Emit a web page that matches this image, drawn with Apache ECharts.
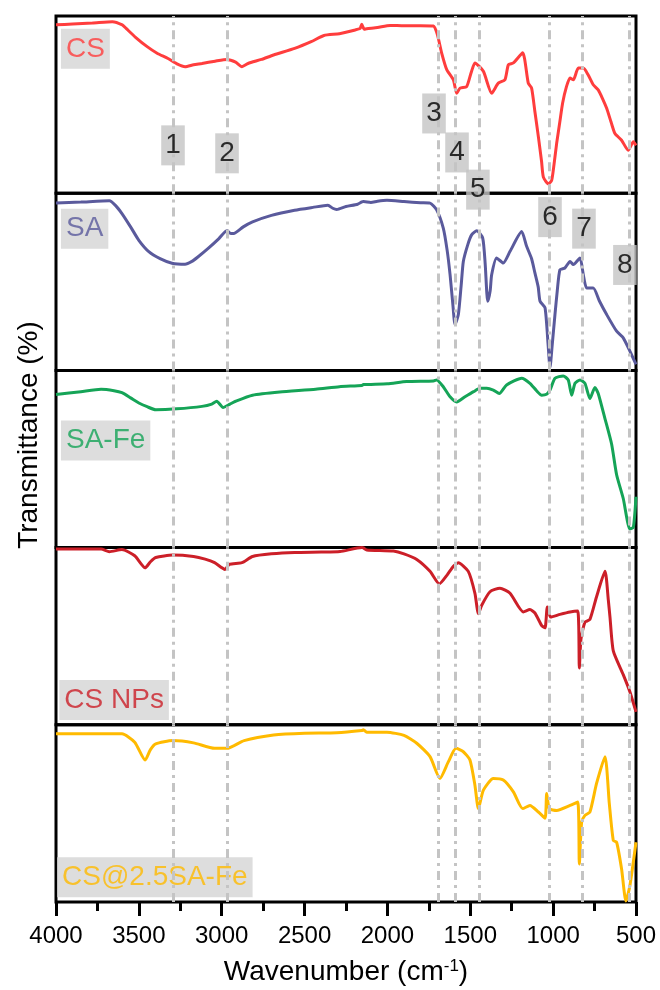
<!DOCTYPE html>
<html>
<head>
<meta charset="utf-8">
<script src="https://cdn.jsdelivr.net/npm/echarts/dist/echarts.min.js"></script>
<style>
  html, body { margin: 0; padding: 0; background: #fff; }
  #chart { width: 660px; height: 990px; }
</style>
</head>
<body>
<div id="chart"></div>
<script>
// FTIR spectra, [wavenumber, relative transmittance in panel]
var csData = [
  [4000,95],[3900,95.5],[3780,96],[3660,96.8],[3600,95],[3577,93],[3520,88],[3450,82.7],[3390,79],[3324,76],
  [3270,73],[3221,71.4],[3170,72.5],[3119,73.2],[3040,74.5],[2968,75.5],[2916,74],[2878,71.4],[2841,73.2],[2760,75.5],
  [2687,78],[2560,81.7],[2460,85.5],[2383,89],[2290,90],[2200,92],[2165,93],[2155,95.3],[2140,92.5],[2125,92.8],
  [2060,93.5],[1984,94.7],[1900,94.5],[1800,94.5],[1723,94.3],[1699,89.6],[1673,79.2],[1642,69.7],[1602,64],[1582,56.4],
  [1562,59.3],[1522,60.2],[1495,68],[1472,73.5],[1421,68.8],[1371,56.4],[1331,62.1],[1291,64],[1270,72.5],[1240,73.5],
  [1184,79.2],[1150,62.1],[1130,59.3],[1110,46],[1089,31.8],[1070,18],[1059,9.1],[1029,5.3],[1009,7.2],[995,16],
  [979,28],[960,40],[943,50.8],[920,60],[898,65],[878,64],[848,70.6],[818,70.6],[790,67],[758,61.2],
  [728,58.3],[700,53],[677,47.9],[650,40],[627,33.7],[587,29.9],[547,24.2],[516,29],[500,27]
];
var saData = [
  [4000,94.5],[3850,95],[3678,95.7],[3640,93],[3602,88.5],[3550,81],[3500,73.4],[3440,67],[3372,63.1],[3300,60.5],
  [3221,59.9],[3180,61.5],[3144,64],[3080,69],[3017,74.4],[2968,79],[2945,77.2],[2928,77.2],[2870,81],[2814,83.8],
  [2700,87.5],[2560,90.4],[2450,92],[2359,93.2],[2330,91.5],[2306,90.8],[2250,92.5],[2180,93.8],[2154,95.1],[2145,95.3],
  [2100,94.8],[2060,95.5],[2003,96],[1900,95.3],[1800,94.6],[1743,94.4],[1703,90.6],[1663,80.3],[1640,68],[1622,54],
  [1605,37],[1592,25.9],[1572,31.5],[1555,48],[1542,61.5],[1515,71],[1492,76.5],[1461,78.8],[1425,74.7],[1410,60],
  [1395,39],[1380,45],[1371,54],[1341,63.4],[1301,60.6],[1260,67.2],[1190,78.4],[1160,70],[1130,63],[1110,55],
  [1090,47],[1079,39],[1049,35.3],[1030,14],[1019,1.5],[1005,15],[989,31.5],[975,45],[959,56.8],[929,57.8],
  [898,61.5],[878,59.7],[838,63.4],[818,54],[798,46.5],[758,46.5],[720,39],[677,31.5],[617,22.1],[577,18.4],
  [537,10.9],[500,3.4]
];
var saFeData = [
  [4000,86.4],[3850,88],[3728,89.3],[3650,88.5],[3602,87.4],[3550,84.5],[3500,81.6],[3450,79.5],[3398,77.8],[3271,78.3],
  [3119,79.7],[3060,81],[3030,82.6],[2992,79.1],[2950,81],[2916,82.6],[2814,86],[2650,87.8],[2433,89.3],[2290,90.8],
  [2154,91.5],[2145,92],[2000,92.5],[1884,93.7],[1722,94],[1703,94.6],[1663,90.8],[1622,85.1],[1582,82.2],[1532,85.1],
  [1480,88],[1441,89.9],[1401,89.9],[1361,88.9],[1325,87],[1281,91.8],[1190,95.6],[1140,92.7],[1100,88.5],[1069,86],
  [1040,86.5],[1019,88.9],[989,95.6],[939,96.9],[909,94.6],[888,86],[868,92.7],[838,94.6],[808,92.7],[778,84.1],
  [748,90.4],[728,87],[687,72.7],[647,58.3],[617,41.1],[577,27.7],[537,10.5],[516,11.5],[500,28.7]
];
var csNpData = [
  [4000,99.2],[3850,99.2],[3728,99.2],[3678,97.7],[3602,98.9],[3525,95.4],[3462,88.6],[3430,92],[3398,94.4],[3296,95.8],
  [3170,95],[3100,93.5],[3043,91.5],[2980,87.7],[2954,90.6],[2878,91.5],[2814,95],[2700,96.5],[2560,97.3],[2400,97.5],
  [2286,97.8],[2154,100],[2145,99.8],[2125,98.7],[1964,98.1],[1900,96.5],[1823,93.3],[1743,86.6],[1687,79.5],[1640,84.5],
  [1602,89.5],[1572,91.4],[1512,86.6],[1472,74.2],[1451,62.7],[1431,67.5],[1381,75.1],[1321,77.1],[1260,74.2],[1180,63.7],
  [1140,65],[1110,63.1],[1069,56],[1049,54.7],[1035,66.5],[1015,60.8],[959,62.3],[898,63.7],[852,64.2],[842,32.1],
  [832,48.4],[808,57.9],[778,59.5],[738,72.3],[687,86.6],[667,70.4],[657,60.8],[637,41.7],[577,28.3],[537,18.7],
  [500,7.3]
];
var csSaFeData = [
  [4000,94.9],[3800,95],[3602,94.9],[3525,90.2],[3462,80.1],[3430,86],[3398,89.2],[3296,91.1],[3170,89.8],[3043,86.7],
  [2968,86.7],[2865,91.1],[2687,94.3],[2500,95.3],[2306,95.5],[2154,96.8],[2145,97.2],[2125,95.8],[2003,95.8],[1900,94],
  [1823,89.6],[1743,82],[1683,69.7],[1632,79.2],[1586,86.7],[1542,84.8],[1502,80.1],[1472,65.9],[1451,52.7],[1421,63.1],
  [1361,69.7],[1301,68.8],[1240,62.1],[1184,52.7],[1140,54.5],[1089,50.8],[1049,47.3],[1039,61.2],[1023,52.7],[979,51.7],
  [898,54.5],[852,56.4],[842,21.4],[828,45.1],[808,48.9],[778,50.8],[738,66.9],[687,82],[661,55.5],[637,34.7],
  [617,33.7],[587,18.6],[561,0.6],[537,9.1],[500,33.7]
];

var sampleNames = ['CS', 'SA', 'SA-Fe', 'CS NPs', 'CS@2.5SA-Fe'];
var sampleColors = ['#ff3d3d', '#5a5a9c', '#15a457', '#cc1f28', '#ffba00'];
var spectra = [csData, saData, saFeData, csNpData, csSaFeData];

// marked band positions (cm-1) and their numbers
var bandPos = [3294, 2968, 1693, 1588, 1443, 1022, 826, 540];
var bandNames = ['1', '2', '3', '4', '5', '6', '7', '8'];
// where the number boxes sit: [wavenumber, height in the whole plot 0-100]
var bandLabelPos = [[3294,85.4],[2968,84.5],[1719,89],[1580,84.6],[1454,80.4],[1019,77.3],[814,76],[567,71.9]];
// sample name boxes: [wavenumber at left edge, height in the whole plot 0-100]
var nameLabelPos = [[3970,96.3],[3970,76],[3970,52.1],[3980,22.8],[3994,2.8]];

var xTicks = { min: 500, max: 4000, interval: 500 };

var FONT = 'Liberation Sans, Arial, sans-serif';
var plotLeft = 56, plotRight = 24, plotTop = 16, plotBottom = 88;
var panelH = (990 - plotTop - plotBottom) / 5;

var grids = [], xAxes = [], yAxes = [], series = [];

for (var i = 0; i < 5; i++) {
  var last = (i === 4);
  grids.push({
    left: plotLeft, right: plotRight, top: plotTop + i * panelH, height: panelH,
    show: true, borderColor: '#000', borderWidth: 3, backgroundColor: 'transparent'
  });
  xAxes.push({
    type: 'value', gridIndex: i, inverse: true,
    min: xTicks.min, max: xTicks.max, interval: xTicks.interval,
    axisLine: { show: false },
    splitLine: { show: false },
    axisTick: { show: last, length: 14, lineStyle: { color: '#000', width: 3 } },
    minorTick: { show: last, splitNumber: 2, length: 9, lineStyle: { color: '#000', width: 3 } },
    axisLabel: {
      show: last, fontSize: 24, color: '#000', fontFamily: FONT, margin: 22,
      formatter: function (v) { return String(v); }
    },
    name: last ? 'Wavenumber (cm{sup|-1})' : '',
    nameLocation: 'middle',
    nameGap: 56,
    nameTextStyle: {
      fontSize: 28, color: '#000', fontFamily: FONT,
      rich: { sup: { fontSize: 17, color: '#000', fontFamily: FONT, verticalAlign: 'top', padding: [0, 0, 12, 0] } }
    }
  });
  yAxes.push({ type: 'value', gridIndex: i, min: 0, max: 100, show: false });
  series.push({
    name: sampleNames[i],
    type: 'line',
    xAxisIndex: i, yAxisIndex: i,
    z: 3,
    showSymbol: false,
    symbol: 'none',
    smooth: 0.2,
    lineStyle: { color: sampleColors[i], width: 3 },
    data: spectra[i],
    markLine: {
      silent: true,
      symbol: ['none', 'none'],
      label: { show: false },
      lineStyle: { color: '#c4c4c4', width: 3, type: [9, 5, 3, 5] },
      data: bandPos.map(function (p) { return { xAxis: p }; })
    }
  });
}

// overlay covering the whole plot, used for the text boxes
grids.push({ left: plotLeft, right: plotRight, top: plotTop, bottom: plotBottom });
xAxes.push({ type: 'value', gridIndex: 5, inverse: true, min: xTicks.min, max: xTicks.max, show: false });
yAxes.push({ type: 'value', gridIndex: 5, min: 0, max: 100, show: false });

series.push({
  type: 'scatter', xAxisIndex: 5, yAxisIndex: 5, z: 6, symbolSize: 0, silent: true,
  label: {
    show: true, position: 'inside', align: 'center', verticalAlign: 'middle',
    formatter: '{b}', fontSize: 28, lineHeight: 28, fontFamily: FONT, color: '#000',
    backgroundColor: '#c4c4c4', padding: [6, 4]
  },
  data: bandLabelPos.map(function (p, k) { return { name: bandNames[k], value: p }; })
});
series.push({
  type: 'scatter', xAxisIndex: 5, yAxisIndex: 5, z: 1, symbolSize: 0, silent: true,
  label: {
    show: true, position: 'inside', align: 'left', verticalAlign: 'middle',
    formatter: '{b}', fontSize: 28, lineHeight: 28, fontFamily: FONT,
    backgroundColor: '#d4d4d4', padding: [6, 5]
  },
  data: nameLabelPos.map(function (p, k) {
    return { name: sampleNames[k], value: p, label: { color: sampleColors[k] } };
  })
});

var myChart = echarts.init(document.getElementById('chart'));
myChart.setOption({
  backgroundColor: '#fff',
  animation: false,
  grid: grids,
  xAxis: xAxes,
  yAxis: yAxes,
  series: series,
  graphic: [{
    type: 'text', x: 29, y: 435, rotation: Math.PI / 2,
    style: { text: 'Transmittance (%)', fontSize: 28, fontFamily: FONT, fill: '#000', align: 'center', verticalAlign: 'middle' }
  }]
});
</script>
</body>
</html>
